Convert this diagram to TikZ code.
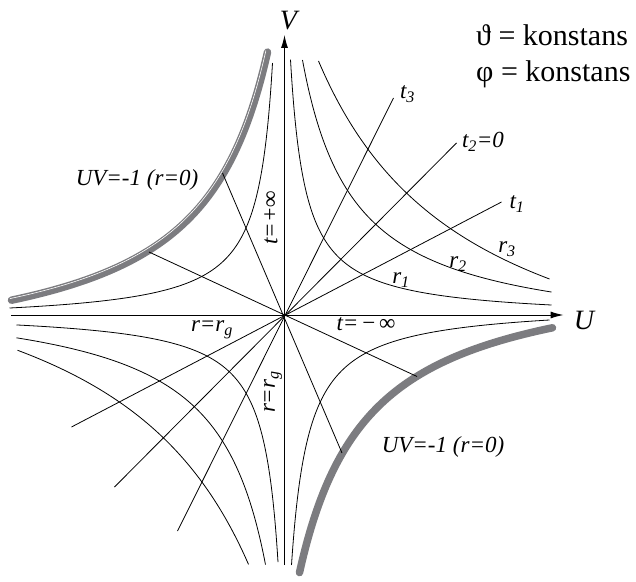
\documentclass[tikz,border=0pt]{standalone}
\usepackage{fontspec}
\setmainfont{Liberation Serif}
\newfontfamily\tnr{Liberation Serif}
\usetikzlibrary{arrows.meta}
\definecolor{singgray}{RGB}{124,124,128}
\begin{document}
\begin{tikzpicture}[x=1pt,y=1pt,
  curve/.style={line width=0.8pt,black},
  ray/.style={line width=0.8pt,black},
  axisline/.style={line width=1pt,black,-{Latex[length=13pt,width=7pt]}},
  sing/.style={line width=7.5pt,singgray,line cap=round},
  highlight/.style={line width=0.6pt,white},
  lab/.style={font=\tnr\fontsize{23}{26}\selectfont\itshape,inner sep=0pt},
  axlab/.style={font=\tnr\fontsize{28}{32}\selectfont\itshape,inner sep=0pt},
  big/.style={font=\tnr\fontsize{30}{34}\selectfont,inner sep=0pt,anchor=base west}]
\useasboundingbox (-284.5,-266) rectangle (351.5,315);

% origin and line end points
\coordinate (O) at (0,0);
\coordinate (Ul) at (-273,0);
\coordinate (Ur) at (279,0);
\coordinate (Vb) at (0,-250);
\coordinate (Vt) at (0,280);
\coordinate (t3a) at (109,217);
\coordinate (t3b) at (-107,-216);
\coordinate (t2a) at (172,172);
\coordinate (t2b) at (-170,-172);
\coordinate (t1a) at (217,113);
\coordinate (t1b) at (-213,-112);
\coordinate (s1a) at (-62,142);
\coordinate (s1b) at (57.5,-138);
\coordinate (s2a) at (-135.5,63);
\coordinate (s2b) at (132.5,-61.5);

% singularity UV=-1
\draw[sing] plot[domain=17:273,samples=300] ({-\x},{225/(\x+54)*100-54});
\draw[highlight,xshift=-1.6pt,yshift=1.6pt] plot[domain=17:273,samples=300] ({-\x},{225/(\x+54)*100-54});
\draw[sing] plot[domain=15:268,samples=300] ({\x},{-(215/(\x+54)*100-54)});

% r = const curves, upper right
\draw[curve] plot[domain=6:267,samples=400] ({\x},{39.19/(\x+9.1)*100-4.2});
\draw[curve] plot[domain=18:267,samples=400] ({\x},{144.84/(\x+33.7)*100-25.2});
\draw[curve] plot[domain=34:265,samples=300] ({\x},{562.6/(\x+120.6)*100-109.9});
% lower left (point reflection)
\draw[curve] plot[domain=6.5:268,samples=400] ({-\x},{-(39.19/(\x+9.1)*100-4.2)});
\draw[curve] plot[domain=19:268,samples=400] ({-\x},{-(144.84/(\x+33.7)*100-25.2)});
\draw[curve] plot[domain=36:267,samples=300] ({-\x},{-(562.6/(\x+120.6)*100-109.9)});
% upper left and lower right
\draw[curve] plot[domain=12:275,samples=400] ({-\x},{39.2/(\x+3.13)*100-7.1});
\draw[curve] plot[domain=7:265,samples=400] ({\x},{-(45.42/(\x+10.37)*100-11.5)});

% t = const lines
\draw[ray] (t3b) -- (t3a);
\draw[ray] (t2b) -- (t2a);
\draw[ray] (t1b) -- (t1a);
\draw[ray] (s1a) -- (s1b);
\draw[ray] (s2a) -- (s2b);

% axes
\draw[axisline] (Ul) -- (Ur);
\draw[axisline] (Vb) -- (Vt);
\node[axlab] (labU) at (299.5,-5) {U};
\node[axlab] (labV) at (4,294) {V};

% labels
\node[big] (th) at (191.5,269) {ϑ = konstans};
\node[big] (ph) at (191.5,233) {φ = konstans};
\node[lab] (lt3) at (123,221) {t\textsubscript{3}};
\node[lab] (lt2) at (198.5,173) {t\textsubscript{2}=0};
\node[lab] (lt1) at (232.5,111) {t\textsubscript{1}};
\node[lab] (lr1) at (116.5,35) {r\textsubscript{1}};
\node[lab] (lr2) at (173.5,51) {r\textsubscript{2}};
\node[lab] (lr3) at (222.5,66) {r\textsubscript{3}};
\node[lab] (uv1) at (-147.5,135) {UV=-1 (r=0)};
\node[lab] (uv2) at (158.5,-132) {UV=-1 (r=0)};
\node[lab,rotate=90] (tp) at (-13.5,97) {t=+∞};
\node[lab] (rg1) at (-72.5,-15) {r=r\textsubscript{g}};
\node[lab,rotate=90] (rg2) at (-11.5,-77) {r=r\textsubscript{g}};
\node[lab] (tm) at (81.5,-9) {t=\,\textup{−\,∞}};
\end{tikzpicture}
\end{document}
